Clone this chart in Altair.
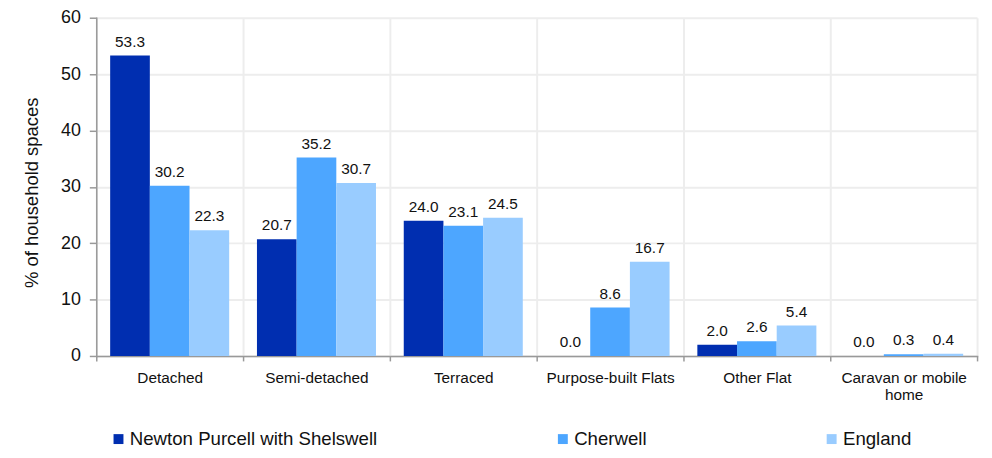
import altair as alt
import pandas as pd

categories = ["Detached", "Semi-detached", "Terraced", "Purpose-built Flats", "Other Flat", "Caravan or mobile home"]
series = ["Newton Purcell with Shelswell", "Cherwell", "England"]
newton = [53.3, 20.7, 24.0, 0.0, 2.0, 0.0]
cherwell = [30.2, 35.2, 23.1, 8.6, 2.6, 0.3]
england = [22.3, 30.7, 24.5, 16.7, 5.4, 0.4]
colors = ["#002EB0", "#4DA6FF", "#99CCFF"]

rows = []
for i, c in enumerate(categories):
    for s, vals in zip(series, [newton, cherwell, england]):
        rows.append({"category": c, "series": s, "value": vals[i]})
df = pd.DataFrame(rows)

FONT = "Liberation Sans"

x = alt.X("category:N", sort=categories, title=None,
          scale=alt.Scale(paddingInner=0, paddingOuter=0),
          axis=alt.Axis(tickBand="extent", labelAngle=0, labelFontSize=15.5, labelColor="#111",
                        labelFont=FONT, tickSize=5, tickColor="#999", domainColor="#999",
                        domainWidth=1.5, tickWidth=1.5, labelPadding=10, labelLineHeight=17,
                        grid=True, gridColor="#ededed", gridWidth=2,
                        labelExpr="datum.label == 'Caravan or mobile home' ? ['Caravan or mobile', 'home'] : datum.label"))
xo = alt.XOffset("series:N", sort=series,
                 scale=alt.Scale(paddingInner=0, paddingOuter=0.35))
y = alt.Y("value:Q", title="% of household spaces",
          scale=alt.Scale(domain=[0, 60]),
          axis=alt.Axis(values=[0, 10, 20, 30, 40, 50, 60], labelFontSize=18, labelColor="#111",
                        labelFont=FONT, titleFont=FONT, titleFontSize=18.6, titleFontWeight="normal",
                        titleColor="#111", tickSize=7, tickColor="#999", domainColor="#999",
                        domainWidth=1.5, tickWidth=1.5, gridColor="#ededed", gridWidth=2,
                        titlePadding=19, labelPadding=9, titleY=176))

bars = alt.Chart(df).mark_bar().encode(
    x=x, xOffset=xo, y=y,
    color=alt.Color("series:N", sort=series, title=None,
                    scale=alt.Scale(domain=series, range=colors),
                    legend=alt.Legend(orient="none", legendX=13, legendY=415, direction="horizontal",
                                      columns=3, columnPadding=177, symbolType="square",
                                      symbolSize=100, symbolStrokeWidth=0, labelFontSize=18.8,
                                      labelFont=FONT, labelColor="#111", labelOffset=2,
                                      labelLimit=400))
)

labels = alt.Chart(df).mark_text(baseline="bottom", dy=-6, fontSize=15.5, font=FONT, color="#111").encode(
    x=alt.X("category:N", sort=categories), xOffset=alt.XOffset("series:N", sort=series),
    y="value:Q", text=alt.Text("value:Q", format=".1f")
)

chart = (bars + labels).properties(
    width=888, height=341,
    autosize=alt.AutoSizeParams(type="none"),
    padding={"left": 89, "top": 8, "right": 7, "bottom": 93}
).configure_view(stroke=None).configure_axis(domainCap="square")

chart.save("out.html", embed_options={"renderer": "svg", "actions": False})
